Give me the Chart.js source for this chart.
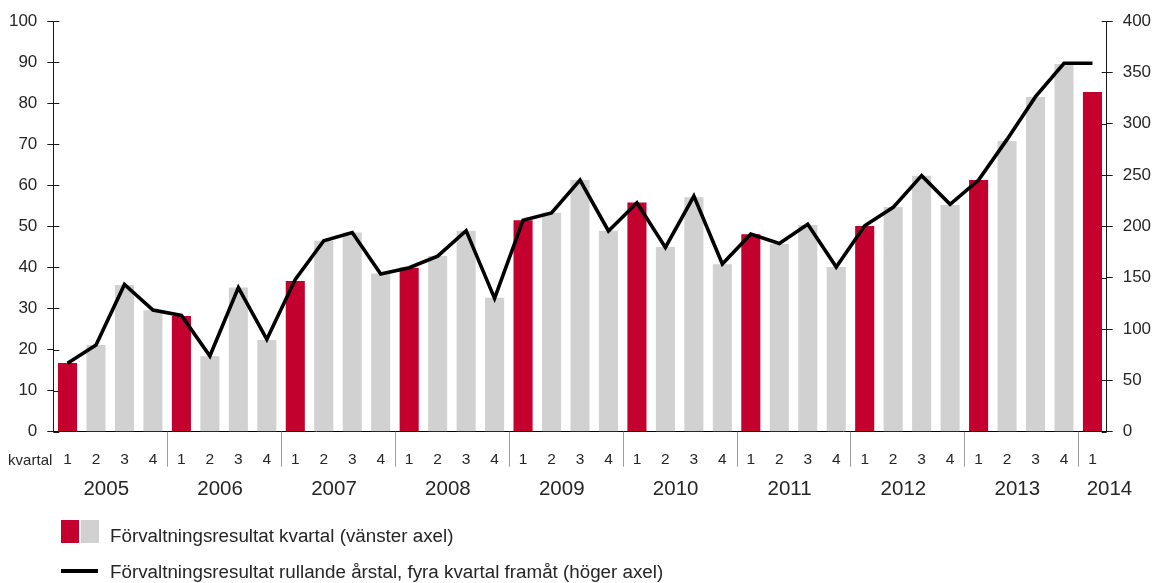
<!DOCTYPE html>
<html lang="sv">
<head>
<meta charset="utf-8">
<title>Förvaltningsresultat</title>
<script src="https://cdn.jsdelivr.net/npm/chart.js@4/dist/chart.umd.min.js"></script>
<style>
  html, body { margin: 0; padding: 0; background: #ffffff; }
  #wrap { width: 1167px; height: 583px; position: relative; }
</style>
</head>
<body>
<div id="wrap"><canvas id="chart" width="1167" height="583"></canvas></div>
<script>
// Years shown under the quarter numbers (2014 has only its first quarter)
const years = ['2005', '2006', '2007', '2008', '2009', '2010', '2011', '2012', '2013', '2014'];
const quartersPerYear = [4, 4, 4, 4, 4, 4, 4, 4, 4, 1];

// Förvaltningsresultat per kvartal, MSEK (vänster axel)
const quarterlyResult = [
  16.7, 21.1, 35.7, 29.6,
  28.2, 18.4, 35.1, 22.3,
  36.7, 46.5, 48.5, 38.5,
  39.9, 42.8, 48.9, 32.6,
  51.5, 53.3, 61.3, 48.9,
  55.8, 45.0, 57.1, 40.8,
  48.1, 45.7, 50.3, 40.1,
  50.1, 54.7, 62.3, 55.2,
  61.3, 70.8, 81.5, 89.5,
  82.7
];

// Förvaltningsresultat rullande årstal, fyra kvartal framåt, MSEK (höger axel)
const rollingAnnual = [
  66.6, 84.4, 143.5, 118.5,
  113.3, 73.7, 140.3, 89.9,
  148.4, 186.0, 194.0, 153.6,
  159.7, 171.0, 195.8, 129.9,
  206.0, 213.0, 245.0, 195.5,
  223.0, 179.5, 229.5, 163.3,
  192.5, 183.4, 202.0, 160.4,
  200.6, 218.5, 249.4, 221.4,
  245.1, 284.7, 326.3, 358.8,
  358.8
];

// Axis ranges
const leftAxis = { min: 0, max: 100, step: 10 };
const rightAxis = { min: 0, max: 400, step: 50 };

const legendLabels = [
  'Förvaltningsresultat kvartal (vänster axel)',
  'Förvaltningsresultat rullande årstal, fyra kvartal framåt (höger axel)'
];

const RED = '#c4002f';
const GREY = '#d0d1d0';
const TEXT = '#262626';
const FONT = '"Liberation Sans", Arial, Helvetica, sans-serif';

// Category list: one quarter number per bar
const quarterLabels = [];
years.forEach((yr, i) => {
  for (let q = 1; q <= quartersPerYear[i]; q++) quarterLabels.push(String(q));
});
const barColors = quarterLabels.map(q => (q === '1' ? RED : GREY));

function strokeLine(ctx, x1, y1, x2, y2) {
  ctx.beginPath();
  ctx.moveTo(x1, y1);
  ctx.lineTo(x2, y2);
  ctx.stroke();
}

// Inner tick marks, year separators, year labels and the legend
const decorations = {
  id: 'decorations',
  afterDraw(chart) {
    const { ctx, chartArea: a, scales } = chart;
    const x = scales.x, y = scales.y, y1 = scales.y1;
    ctx.save();

    // tick marks reaching into the plot from both value axes
    ctx.strokeStyle = '#1a1a1a';
    ctx.lineWidth = 1;
    y.ticks.forEach((t, i) => {
      const py = Math.round(y.getPixelForTick(i)) + 0.5;
      strokeLine(ctx, a.left, py, a.left + 6, py);
    });
    y1.ticks.forEach((t, i) => {
      const py = Math.round(y1.getPixelForTick(i)) + 0.5;
      strokeLine(ctx, a.right - 5, py, a.right, py);
    });

    // separators between the years
    ctx.strokeStyle = '#9c9c9c';
    let idx = 0;
    const starts = [];
    years.forEach((yr, i) => { starts.push(idx); idx += quartersPerYear[i]; });
    starts.slice(1).forEach(s => {
      const px = Math.round((x.getPixelForValue(s - 1) + x.getPixelForValue(s)) / 2) + 0.5;
      strokeLine(ctx, px, a.bottom, px, a.bottom + 35);
    });

    // "kvartal" in front of the quarter numbers
    ctx.fillStyle = TEXT;
    ctx.font = '15px ' + FONT;
    ctx.textAlign = 'right';
    ctx.textBaseline = 'middle';
    ctx.fillText('kvartal', a.left - 1, a.bottom + 29);

    // year labels centred under their quarters
    ctx.font = '20.5px ' + FONT;
    ctx.textAlign = 'center';
    years.forEach((yr, i) => {
      const first = x.getPixelForValue(starts[i]);
      const last = x.getPixelForValue(starts[i] + quartersPerYear[i] - 1);
      let cx = (first + last) / 2 - 4;
      if (quartersPerYear[i] < 4) cx = last + 17;
      ctx.fillText(yr, cx, a.bottom + 58);
    });

    // legend
    const lx = 61;
    ctx.fillStyle = RED;
    ctx.fillRect(lx, 520, 18, 23);
    ctx.fillStyle = GREY;
    ctx.fillRect(lx + 20, 520, 18, 23);
    ctx.fillStyle = '#000000';
    ctx.fillRect(lx, 569, 37, 4);

    ctx.fillStyle = TEXT;
    ctx.font = '18.8px ' + FONT;
    ctx.textAlign = 'left';
    ctx.textBaseline = 'middle';
    ctx.fillText(legendLabels[0], 110, 537);
    ctx.fillText(legendLabels[1], 110, 573);

    ctx.restore();
  }
};

Chart.defaults.font.family = FONT;
Chart.defaults.color = TEXT;

new Chart(document.getElementById('chart'), {
  type: 'bar',
  data: {
    labels: quarterLabels,
    datasets: [
      {
        type: 'line',
        label: legendLabels[1],
        data: rollingAnnual,
        yAxisID: 'y1',
        borderColor: '#000000',
        borderWidth: 3.6,
        borderJoinStyle: 'miter',
        pointRadius: 0,
        tension: 0,
        order: 0
      },
      {
        type: 'bar',
        label: legendLabels[0],
        data: quarterlyResult,
        yAxisID: 'y',
        backgroundColor: barColors,
        borderWidth: 0,
        barPercentage: 0.67,
        categoryPercentage: 1.0,
        order: 1
      }
    ]
  },
  options: {
    responsive: false,
    animation: false,
    devicePixelRatio: 1,
    layout: { padding: { top: 21, left: 0, right: 0, bottom: 0 } },
    plugins: {
      legend: { display: false },
      tooltip: { enabled: false }
    },
    scales: {
      x: {
        type: 'category',
        offset: true,
        grid: { display: false, drawTicks: false },
        border: { display: true, color: '#000000', width: 1 },
        ticks: {
          font: { size: 15.5 },
          color: TEXT,
          padding: 19,
          maxRotation: 0,
          autoSkip: false
        },
        afterFit(scale) { scale.height = 151.3; }
      },
      y: {
        position: 'left',
        min: leftAxis.min,
        max: leftAxis.max,
        grid: { display: true, drawOnChartArea: false, drawTicks: true, tickLength: 6, color: '#1a1a1a' },
        border: { display: true, color: '#1a1a1a', width: 1 },
        ticks: { stepSize: leftAxis.step, font: { size: 17 }, color: TEXT, padding: 10 },
        afterFit(scale) { scale.width = 53.3; }
      },
      y1: {
        position: 'right',
        min: rightAxis.min,
        max: rightAxis.max,
        grid: { display: true, drawOnChartArea: false, drawTicks: true, tickLength: 6, color: '#1a1a1a' },
        border: { display: true, color: '#1a1a1a', width: 1 },
        ticks: { stepSize: rightAxis.step, font: { size: 17 }, color: TEXT, padding: 10 },
        afterFit(scale) { scale.width = 60.3; }
      }
    }
  },
  plugins: [decorations]
});
</script>
</body>
</html>
